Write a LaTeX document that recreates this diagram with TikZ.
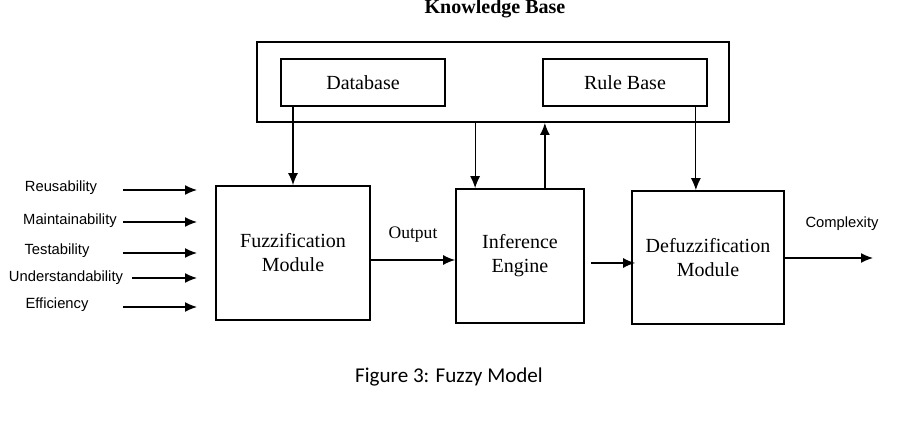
\documentclass[tikz,border=0pt]{standalone}
\usepackage{fontspec}
\setmainfont{Liberation Serif}
\newfontfamily\labelfont{Liberation Sans}
\newfontfamily\captionfont{Carlito}
\usetikzlibrary{arrows.meta, positioning}

\begin{document}
\begin{tikzpicture}[
    x=0.02cm, y=-0.02cm,
    base/.style={draw, line width=1pt, align=center, inner sep=2pt, font=\fontsize{11.4}{13.7}\selectfont},
    module/.style={base, minimum height=2.68cm},
    store/.style={base, minimum width=3.28cm, minimum height=0.94cm},
    metric/.style={font=\labelfont\fontsize{8.4}{10}\selectfont},
    arrow/.style={-{Latex[length=2.4mm, width=2mm]}, line width=0.8pt}
]
    \useasboundingbox (0,0) rectangle (914,422);

    % knowledge base
    \node [anchor=base, font=\bfseries\fontsize{11.4}{13.7}\selectfont] (title) at (495,14) {Knowledge Base};
    \node [base, minimum width=9.44cm, minimum height=1.6cm] (kb) at (493,82) {};
    \node [store] (db) at (363,82.5) {Database};
    \node [store] (rb) at (625,82.5) {Rule Base};

    % processing modules
    \node [module, minimum width=3.08cm] (fuzz) at (293,253) {Fuzzification\\Module};
    \node [module, minimum width=2.56cm] (inf) at (520,256) {Inference\\Engine};
    \node [module, minimum width=3.04cm, minimum height=2.66cm] (defuzz) at (708,257.5) {Defuzzification\\Module};

    % input metrics
    \foreach \name/\txt/\lx/\ly/\ax/\ay in {reuse/Reusability/61/188/123/190,
        maint/Maintainability/70/221/123/222,
        test/Testability/57/251/123/253,
        under/Understandability/66/278/132/278,
        eff/Efficiency/57/305/123/307}{
        \node [metric] (\name) at (\lx,\ly) {\txt};
        \coordinate (\name-s) at (\ax,\ay);
        \coordinate (\name-e) at (197,\ay);
        \draw [arrow] (\name-s) -- (\name-e);
    }

    % links to and from the knowledge base
    \coordinate (inf-in) at ([xshift=0.4cm]inf.north west);
    \coordinate (inf-up) at ([xshift=-0.8cm]inf.north east);
    \coordinate (rb-out) at ([xshift=-0.24cm]rb.south east);
    \draw [arrow] (db.south -| fuzz.north) -- (fuzz.north);
    \draw [arrow, line width=0.6pt] (kb.south -| inf-in) -- (inf-in);
    \draw [arrow] (inf-up) -- (kb.south -| inf-up);
    \draw [arrow, line width=0.6pt] (rb-out) -- (rb-out |- defuzz.north);

    % main flow
    \draw [arrow] ([yshift=-0.14cm]fuzz.east) -- node [above=0.22cm, font=\fontsize{10}{12}\selectfont] (outlbl) {Output} ([yshift=-0.14cm]fuzz.east -| inf.west);
    \draw [arrow, shorten <=0.12cm] ([yshift=-0.14cm]inf.east) -- ([yshift=-0.14cm, xshift=0.08cm]inf.east -| defuzz.west);
    \coordinate (result) at (873,258);
    \draw [arrow] (defuzz.east |- result) -- (result);
    \node [metric] (cplx) at (842,224) {Complexity};

    % caption
    \node [anchor=base, font=\captionfont\fontsize{12}{14}\selectfont] (caption) at (449,383) {Figure 3: Fuzzy Model};
\end{tikzpicture}
\end{document}
